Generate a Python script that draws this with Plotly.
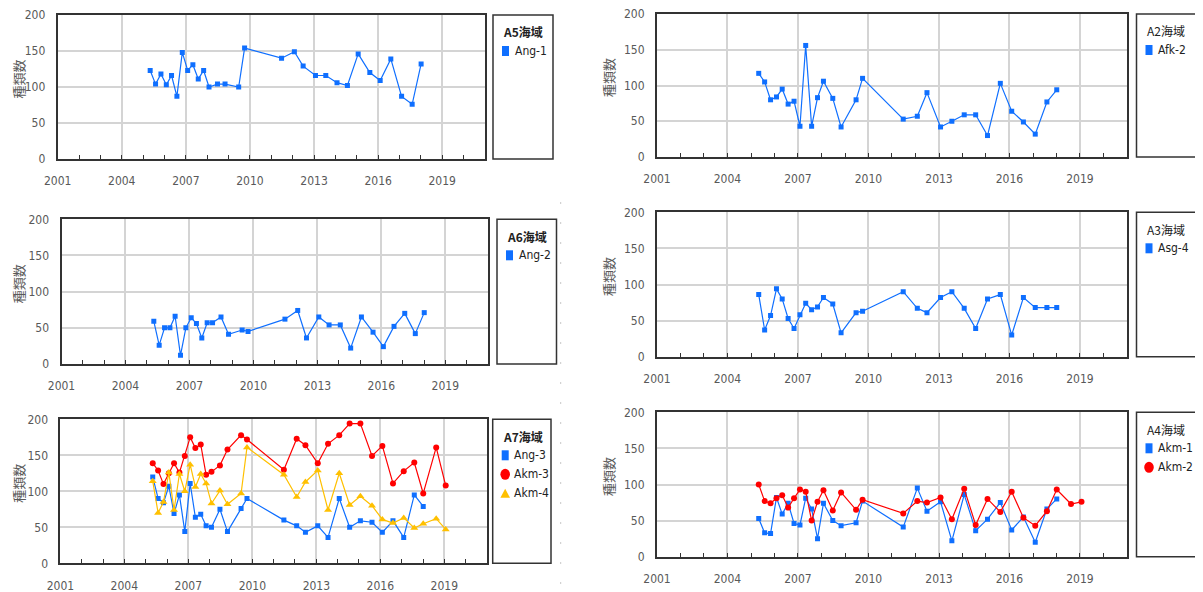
import plotly.graph_objects as go

W, H = 1203, 592
OFF = 8  # page body margin offset of the figure inside the window

# ---------------- data ----------------
dates = ["2005-05-01", "2005-08-01", "2005-11-01", "2006-02-01", "2006-05-01", "2006-08-01",
         "2006-11-01", "2007-02-01", "2007-05-01", "2007-08-01", "2007-11-01", "2008-02-01",
         "2008-06-25", "2008-11-01", "2009-06-22", "2009-10-01", "2011-06-25", "2012-01-30",
         "2012-06-28", "2013-01-25", "2013-07-20", "2014-01-28", "2014-07-25", "2015-01-25",
         "2015-08-12", "2016-02-05", "2016-08-05", "2017-02-05", "2017-08-05", "2018-01-05",
         "2018-08-15", "2019-01-25"]

a5_ang1 = [123, 104, 118, 103, 116, 87, 148, 123, 131, 111, 123, 100, 104, 104, 100, 154,
           140, 149, 129, 116, 116, 106, 102, 146, 120, 109, 139, 87, 76, 132]
a2_afk2 = [117, 105, 80, 84, 95, 74, 78, 43, 156, 43, 83, 106, 82, 42, 80, 110,
           53, 57, 90, 42, 50, 59, 59, 30, 103, 64, 49, 32, 77, 94]
a6_ang2 = [59, 26, 50, 50, 66, 12, 50, 64, 56, 36, 57, 57, 65, 41, 47, 45,
           62, 74, 36, 65, 54, 54, 22, 65, 44, 24, 52, 70, 42, 71]
a3_asg4 = [86, 37, 57, 94, 80, 53, 39, 58, 74, 65, 69, 82, 73, 33, 61, 63,
           90, 67, 61, 82, 90, 67, 39, 80, 86, 30, 82, 68, 68, 68]
a7_ang3 = [120, 90, 84, 107, 69, 95, 44, 111, 64, 68, 52, 50, 75, 44, 76, 90,
           60, 52, 43, 52, 36, 90, 50, 59, 57, 43, 59, 36, 95, 79]
a7_akm3 = [139, 129, 110, 125, 139, 126, 149, 175, 160, 165, 123, 127, 136, 158, 178, 172,
           130, 173, 164, 139, 166, 178, 194, 194, 149, 163, 111, 128, 140, 97, 161, 108]
a7_akm4 = [114, 70, 85, 126, 74, 124, 100, 137, 106, 124, 111, 83, 101, 82, 97, 161,
           123, 92, 113, 129, 74, 125, 81, 93, 80, 61, 56, 63, 49, 55, 62, 47]
a4_akm1 = [53, 33, 32, 82, 59, 74, 46, 44, 81, 66, 25, 74, 50, 43, 47, 77,
           41, 95, 63, 76, 22, 86, 36, 52, 75, 37, 55, 20, 66, 80]
a4_akm2 = [100, 77, 74, 81, 85, 68, 81, 93, 90, 50, 76, 92, 64, 89, 65, 79,
           60, 77, 75, 82, 52, 94, 44, 80, 62, 90, 54, 43, 63, 93, 73, 76]

y_ticks = [0, 50, 100, 150, 200]
y_title = "種類数"

# ---------------- styles ----------------
BLUE, RED, YELLOW = "#0F6FFF", "#FF0000", "#FFC000"
STY = {
    "sq": dict(color=BLUE, symbol="square", size=5),
    "ci": dict(color=RED, symbol="circle", size=6),
    "tr": dict(color=YELLOW, symbol="triangle-up", size=7),
}
NARROW = "Liberation Sans Narrow, DejaVu Sans Condensed, Liberation Sans, sans-serif"
JP = "Liberation Sans Narrow, Noto Sans CJK JP, sans-serif"
GRAY = "#595959"

panels = [
    dict(plot=(57.7, 485.0, 15.0, 159.0), leg=(493.0, 553.0), title="A5海域", bold=True, ytx=18.5,
         series=[("Ang-1", a5_ang1, "sq")]),
    dict(plot=(657.0, 1127.0, 14.0, 157.0), leg=(1136.5, 1201.0), title="A2海域", bold=False, ytx=608.5,
         series=[("Afk-2", a2_afk2, "sq")]),
    dict(plot=(61.5, 488.0, 219.3, 364.0), leg=(497.0, 556.5), title="A6海域", bold=True, ytx=18.5,
         series=[("Ang-2", a6_ang2, "sq")]),
    dict(plot=(657.0, 1127.0, 212.3, 356.7), leg=(1136.5, 1201.0), title="A3海域", bold=False, ytx=608.5,
         series=[("Asg-4", a3_asg4, "sq")]),
    dict(plot=(60.4, 487.0, 419.3, 563.3), leg=(492.7, 551.0), title="A7海域", bold=True, ytx=18.5,
         series=[("Ang-3", a7_ang3, "sq"), ("Akm-3", a7_akm3, "ci"), ("Akm-4", a7_akm4, "tr")]),
    dict(plot=(657.0, 1127.0, 412.3, 556.7), leg=(1136.5, 1201.0), title="A4海域", bold=False, ytx=608.5,
         series=[("Akm-1", a4_akm1, "sq"), ("Akm-2", a4_akm2, "ci")]),
]

FW, FH = W - OFF, H - OFF


def px(x):
    return (x - OFF) / FW


def py(y):
    return 1 - (y - OFF) / FH


fig = go.Figure()
shapes = []
annotations = []

for i, p in enumerate(panels, start=1):
    x0, x1, y0, y1 = p["plot"]
    xa = "x" if i == 1 else f"x{i}"
    ya = "y" if i == 1 else f"y{i}"
    for name, vals, sty in p["series"]:
        s = STY[sty]
        fig.add_trace(go.Scatter(
            x=dates[:len(vals)], y=vals, name=name, mode="lines+markers",
            xaxis=xa, yaxis=ya, showlegend=False,
            line=dict(color=s["color"], width=1.2),
            marker=dict(color=s["color"], symbol=s["symbol"], size=s["size"], line=dict(width=0)),
        ))
    xkey = "xaxis" if i == 1 else f"xaxis{i}"
    ykey = "yaxis" if i == 1 else f"yaxis{i}"
    fig.layout[xkey] = dict(
        domain=[px(x0), px(x1)], anchor=ya, type="date", automargin=False,
        range=["2001-01-01", "2021-01-01"], tick0="2001-01-01", dtick="M36", tickformat="%Y",
        showgrid=True, gridcolor="#D4D4D4", gridwidth=1.5,
        showline=True, mirror=True, linecolor="#333333", linewidth=2,
        ticks="inside", ticklen=4, tickcolor="#333333", tickwidth=1,
        minor=dict(dtick="M12", tick0="2001-01-01", ticks="inside", ticklen=4,
                   tickcolor="#333333", tickwidth=1, showgrid=False),
        tickfont=dict(family=NARROW, size=12, color=GRAY), ticklabeloverflow="allow",
        ticklabelstandoff=10, zeroline=False, fixedrange=True,
    )
    fig.layout[ykey] = dict(
        domain=[py(y1), py(y0)], anchor=xa, range=[0, 200], tickvals=y_ticks, automargin=False,
        showgrid=True, gridcolor="#D4D4D4", gridwidth=1.5,
        showline=True, mirror=True, linecolor="#333333", linewidth=2,
        ticks="", tickfont=dict(family=NARROW, size=12, color=GRAY), ticklabeloverflow="allow",
        ticklabelstandoff=8, zeroline=False, fixedrange=True,
    )
    # y axis title
    annotations.append(dict(
        text=y_title, textangle=-90, xref="paper", yref="paper",
        x=px(p["ytx"]), y=py((y0 + y1) / 2 - 8), xanchor="center", yanchor="middle",
        showarrow=False, font=dict(family="Noto Sans CJK JP, sans-serif", size=13, color=GRAY),
    ))
    # legend box
    lx0, lx1 = p["leg"]
    shapes.append(dict(type="rect", xref="paper", yref="paper",
                       x0=px(lx0), x1=px(lx1), y0=py(y1), y1=py(y0),
                       line=dict(color="#333333", width=1.5), fillcolor="white"))
    ttl = f"<b>{p['title']}</b>" if p["bold"] else p["title"]
    annotations.append(dict(
        text=ttl, xref="paper", yref="paper", x=px(lx0 + 8), y=py(y0 + 17),
        xanchor="left", yanchor="middle", showarrow=False,
        font=dict(family=JP, size=12, color="#222222"),
    ))
    for k, (name, vals, sty) in enumerate(p["series"]):
        cy = y0 + 36 + 19 * k
        mx = lx0 + 12.5
        col = STY[sty]["color"]
        if sty == "sq":
            shapes.append(dict(type="rect", xref="paper", yref="paper",
                               x0=px(mx - 3.5), x1=px(mx + 3.5), y0=py(cy + 5), y1=py(cy - 5),
                               line=dict(width=0), fillcolor=col))
        elif sty == "ci":
            shapes.append(dict(type="circle", xref="paper", yref="paper",
                               x0=px(mx - 4.8), x1=px(mx + 4.8), y0=py(cy + 5.5), y1=py(cy - 5.5),
                               line=dict(width=0), fillcolor=col))
        else:
            path = (f"M {px(mx - 4.8)},{py(cy + 4.5)} L {px(mx + 4.8)},{py(cy + 4.5)} "
                    f"L {px(mx)},{py(cy - 4.5)} Z")
            shapes.append(dict(type="path", xref="paper", yref="paper", path=path,
                               line=dict(width=0), fillcolor=col))
        annotations.append(dict(
            text=name, xref="paper", yref="paper", x=px(lx0 + 19.5), y=py(cy),
            xanchor="left", yanchor="middle", showarrow=False,
            font=dict(family=NARROW, size=12, color="#222222"),
        ))

# faint dotted separator line on the right of the left column
shapes.append(dict(type="line", xref="paper", yref="paper",
                   x0=px(560.7), x1=px(560.7), y0=py(202), y1=0,
                   line=dict(color="#C8C8C8", width=1, dash="2px,18px")))

fig.update_layout(
    width=FW, height=FH, margin=dict(l=0, r=0, t=0, b=0, pad=0, autoexpand=False),
    paper_bgcolor="white", plot_bgcolor="white",
    shapes=shapes, annotations=annotations, showlegend=False,
)

fig.write_html("out.html")
